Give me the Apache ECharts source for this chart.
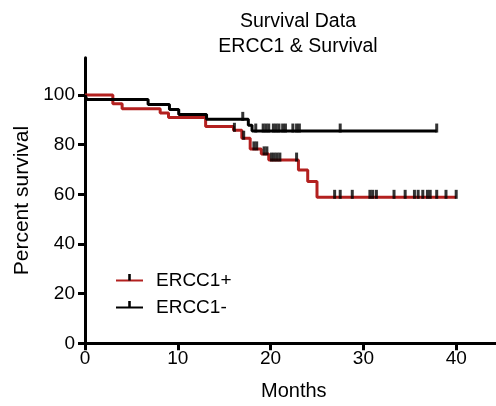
<!DOCTYPE html>
<html><head><meta charset="utf-8">
<script src="https://cdn.jsdelivr.net/npm/echarts@6/dist/echarts.min.js"></script>
<style>html,body{margin:0;padding:0;background:#fff}#c{width:496px;height:406px}</style>
</head><body><div id="c"></div>
<script>
// ERCC1+ (red) Kaplan-Meier steps
const plusTimes = [0, 3.0, 4.0, 8.1, 9.0, 13.0, 16.0, 16.9, 17.8, 19.0, 19.8, 23.0, 24.0, 25.0, 40.0];
const plusSurv  = [100, 96.5, 94.5, 92.8, 91.0, 87.3, 85.8, 82.6, 78.3, 76.3, 73.8, 69.8, 65.2, 58.8, 58.8];
const plusCensor = [16.1, 17.1, 18.2, 18.5, 19.3, 19.6, 20.1, 20.4, 20.7, 21.0, 22.8, 26.9, 27.5, 28.8, 30.7, 31.0, 31.4, 33.3, 34.5, 35.5, 35.9, 36.4, 36.9, 37.2, 37.9, 38.9, 40.0];
// ERCC1- (black) Kaplan-Meier steps
const minusTimes = [0, 0.2, 6.8, 9.1, 10.1, 13.1, 17.6, 18.0, 37.9];
const minusSurv  = [100, 98.2, 96.2, 94.2, 92.2, 90.2, 87.8, 85.5, 85.5];
const minusCensor = [17.0, 18.4, 19.2, 19.5, 19.8, 20.3, 20.6, 20.9, 21.3, 21.6, 22.4, 22.8, 23.1, 27.5, 37.9];
// axis ticks
const xTicks = [0, 10, 20, 30, 40];
const yTicks = [0, 20, 40, 60, 80, 100];
const seriesNames = ['ERCC1+', 'ERCC1-'];
const titleLines = ['Survival Data', 'ERCC1 & Survival'];

const RED = '#b3201f';
const FONT = '"Liberation Sans", Arial, sans-serif';

function zip(a, b) { return a.map((v, i) => [v, b[i]]); }
function survAt(times, surv, t) {
  let s = surv[0];
  for (let i = 0; i < times.length; i++) { if (times[i] <= t) s = surv[i]; }
  return s;
}
const tickIcon = 'path://M0,0h10v0.01h-10zM4,0h2v5h-2zM0,9.99h10v0.01h-10z';

const chart = echarts.init(document.getElementById('c'));
const axisCommon = {
  axisLine: { lineStyle: { color: '#000', width: 3 } },
  axisTick: { length: 7, lineStyle: { color: '#000', width: 3 } },
  splitLine: { show: false },
  axisLabel: { color: '#000', fontSize: 19, fontFamily: FONT },
  nameTextStyle: { color: '#000', fontSize: 20, fontFamily: FONT }
};
chart.setOption({
  animation: false,
  backgroundColor: '#fff',
  title: {
    text: titleLines.join('\n'),
    left: 298, top: 9, textAlign: 'center', padding: 0,
    textStyle: { color: '#000', fontSize: 19.5, fontWeight: 'normal', fontFamily: FONT, lineHeight: 25 }
  },
  legend: {
    data: seriesNames,
    orient: 'vertical', left: 115, top: 271, padding: 0,
    itemWidth: 27, itemHeight: 16, itemGap: 8,
    itemStyle: { borderWidth: 0 },
    textStyle: { color: '#000', fontSize: 19, fontFamily: FONT, padding: [0, 0, 0, 8] }
  },
  grid: { left: 85, top: 57.8, right: -6.6, bottom: 62.7, containLabel: false, outerBoundsMode: 'none' },
  xAxis: Object.assign({}, axisCommon, {
    type: 'value', min: 0, max: 45, interval: 10,
    name: 'Months', nameLocation: 'middle', nameGap: 38,
    axisLabel: Object.assign({}, axisCommon.axisLabel, { margin: 6, customValues: xTicks }),
    axisTick: Object.assign({}, axisCommon.axisTick, { customValues: xTicks })
  }),
  yAxis: Object.assign({}, axisCommon, {
    type: 'value', min: 0, max: 115, interval: 20,
    name: 'Percent survival', nameLocation: 'middle', nameGap: 51, nameRotate: 90,
    nameTextStyle: Object.assign({}, axisCommon.nameTextStyle, { fontSize: 21 }),
    axisLabel: Object.assign({}, axisCommon.axisLabel, { margin: 10, customValues: yTicks }),
    axisTick: Object.assign({}, axisCommon.axisTick, { customValues: yTicks })
  }),
  series: [
    {
      name: seriesNames[0], type: 'line', step: 'end', showSymbol: false,
      symbol: tickIcon, data: zip(plusTimes, plusSurv),
      lineStyle: { color: RED, width: 3 }, itemStyle: { color: '#000', borderWidth: 0 }, z: 2
    },
    {
      name: seriesNames[1], type: 'line', step: 'end', showSymbol: false,
      symbol: tickIcon, data: zip(minusTimes, minusSurv),
      lineStyle: { color: '#000', width: 3 }, itemStyle: { color: '#000', borderWidth: 0 }, z: 3
    },
    {
      name: 'plusCensor', type: 'scatter', symbol: 'rect', symbolSize: [3, 9], symbolOffset: [0, -3],
      data: plusCensor.map(t => [t, survAt(plusTimes, plusSurv, t)]),
      itemStyle: { color: '#000' }, z: 5
    },
    {
      name: 'minusCensor', type: 'scatter', symbol: 'rect', symbolSize: [3, 9], symbolOffset: [0, -3],
      data: minusCensor.map(t => [t, survAt(minusTimes, minusSurv, t)]),
      itemStyle: { color: '#000' }, z: 5
    }
  ]
});
</script>
</body></html>
